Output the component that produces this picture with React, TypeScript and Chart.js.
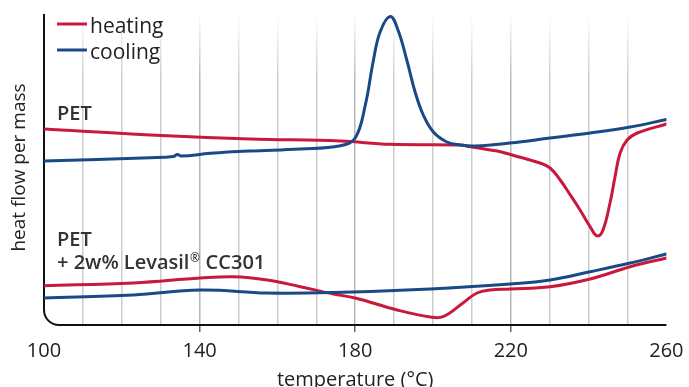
import React, { useEffect, useRef } from 'react';
import { Chart, registerables } from 'chart.js';

Chart.register(...registerables);

// ---- data ----
const xTickLabels = [100, 140, 180, 220, 260];
const xMin = 100;
const xMax = 260;
const gridStep = 10;
const yMin = 0;
const yMax = 315;

const seriesLabels = ['heating', 'cooling'];

const petHeatingT = [100, 127.3, 153, 176.2, 189, 207, 209.6, 214.7, 217.3, 222.4, 227.5, 230.1, 232.7, 235.3, 237.8, 240.4, 242.2, 243.7, 245.5, 246.8, 248.1, 249.9, 252.5, 260];
const petHeatingV = [196, 190, 186, 184, 180.7, 180, 178.3, 175, 173.3, 167.7, 162, 157, 145, 130, 115, 98.3, 89, 95, 122, 148.3, 172, 185, 192, 201];

const petCoolingT = [100, 127.3, 133.2, 134.3, 135.3, 142.8, 153, 165.9, 176.2, 180, 182.6, 184.6, 186.4, 189, 191, 193.4, 195.4, 197.5, 200.1, 203.6, 207, 210.8, 219.8, 230.1, 240.4, 250.7, 260];
const petCoolingV = [164, 167.3, 168.5, 170.5, 168.9, 171.7, 174, 176, 179.3, 187, 220, 263, 293, 308.5, 295, 263, 233, 210, 193, 183, 180, 179, 182, 187, 192, 198, 205.5];

const mixHeatingT = [100, 123, 140.2, 148.7, 157.4, 165.9, 174.4, 180, 190.8, 199.3, 202.6, 207.7, 211.3, 214.7, 219.8, 230.1, 240.4, 250.7, 260];
const mixHeatingV = [39.3, 42, 47, 48.3, 45, 38.3, 31, 27, 15, 8, 8.3, 22, 32, 35, 36, 38.3, 46, 58.3, 67];

const mixCoolingT = [100, 123, 140.2, 157.4, 174.4, 199.3, 219.8, 230.1, 240.4, 250.7, 260];
const mixCoolingV = [27, 30, 35, 32, 32.5, 36, 41, 45, 53.3, 62, 71];

const RED = '#c8193c';
const BLUE = '#1a4a86';
const FONT = '"Open Sans", sans-serif';

const pts = (t: number[], v: number[]) => t.map((x, i) => ({ x, y: v[i] }));

const decor = {
  id: 'decor',
  beforeDatasetsDraw(chart: any) {
    const { ctx, chartArea } = chart;
    const { left, right, bottom, top } = chartArea;
    const r = 15;
    ctx.save();
    ctx.strokeStyle = '#111';
    ctx.lineWidth = 2;
    ctx.beginPath();
    ctx.moveTo(left, top + 4);
    ctx.lineTo(left, bottom - r);
    ctx.arcTo(left, bottom, left + r, bottom, r);
    ctx.lineTo(right, bottom);
    ctx.stroke();
    ctx.restore();
  },
  afterDraw(chart: any) {
    const { ctx, chartArea } = chart;
    const { left, top } = chartArea;
    ctx.save();
    // legend
    const colors = [RED, BLUE];
    seriesLabels.forEach((lab, i) => {
      const y = top + 14 + i * 26;
      ctx.strokeStyle = colors[i];
      ctx.lineWidth = 3;
      ctx.beginPath();
      ctx.moveTo(left + 13, y);
      ctx.lineTo(left + 43, y);
      ctx.stroke();
      ctx.fillStyle = '#222';
      ctx.font = `400 21px ${FONT}`;
      ctx.textBaseline = 'alphabetic';
      ctx.textAlign = 'left';
      ctx.fillText(lab, left + 46, y + 9);
    });
    // sample labels
    ctx.fillStyle = '#333';
    ctx.font = `600 20px ${FONT}`;
    ctx.fillText('PET', left + 13, 120);
    ctx.fillText('PET', left + 13, 246);
    const a = '+ 2w% Levasil';
    ctx.fillText(a, left + 13, 269);
    let x = left + 13 + ctx.measureText(a).width;
    ctx.font = `600 12px ${FONT}`;
    ctx.fillText('®', x + 0.5, 262);
    x += ctx.measureText('®').width + 1;
    ctx.font = `600 20px ${FONT}`;
    ctx.fillText(' CC301', x, 269);
    ctx.restore();
  },
};

export default function App() {
  const ref = useRef<HTMLCanvasElement>(null);
  useEffect(() => {
    const canvas = ref.current;
    if (!canvas) return;
    const gridColor = (c: any) => {
      const v = c.tick?.value;
      if (v === xMin || v === xMax) return 'rgba(0,0,0,0)';
      const area = c.chart.chartArea;
      if (!area) return 'rgba(0,0,0,0.2)';
      const g = c.chart.ctx.createLinearGradient(0, area.top + 4, 0, area.top + 70);
      g.addColorStop(0, 'rgba(0,0,0,0)');
      g.addColorStop(1, xTickLabels.includes(v) ? 'rgba(0,0,0,0.28)' : 'rgba(0,0,0,0.2)');
      return g;
    };
    const chart = new Chart(canvas, {
      type: 'line',
      data: {
        datasets: [
          { label: 'cooling PET', data: pts(petCoolingT, petCoolingV), borderColor: BLUE, order: 0 },
          { label: 'cooling mix', data: pts(mixCoolingT, mixCoolingV), borderColor: BLUE, order: 0 },
          { label: 'heating PET', data: pts(petHeatingT, petHeatingV), borderColor: RED, order: 1 },
          { label: 'heating mix', data: pts(mixHeatingT, mixHeatingV), borderColor: RED, order: 1 },
        ].map((d) => ({
          ...d,
          borderWidth: 3,
          pointRadius: 0,
          fill: false,
          tension: 0.4,
          borderJoinStyle: 'round' as const,
          borderCapStyle: 'round' as const,
        })),
      },
      options: {
        responsive: false,
        animation: false,
        devicePixelRatio: 1,
        layout: { padding: { left: 0, top: 10, right: 22.6, bottom: 0 } },
        plugins: { legend: { display: false }, tooltip: { enabled: false } },
        scales: {
          x: {
            type: 'linear',
            min: xMin,
            max: xMax,
            border: { display: false },
            afterFit: (s: any) => {
              s.height = 62;
              s.paddingLeft = 0;
              s.paddingRight = 0;
            },
            grid: {
              color: gridColor,
              lineWidth: 1.5,
              tickLength: 7,
              tickWidth: 1.5,
              tickColor: (c: any) => (xTickLabels.includes(c.tick?.value) && c.tick.value !== xMin && c.tick.value !== xMax ? '#666' : 'rgba(0,0,0,0)'),
            },
            ticks: {
              stepSize: gridStep,
              autoSkip: false,
              maxRotation: 0,
              padding: 7.5,
              color: '#222',
              font: { family: FONT, size: 20, weight: 400 },
              callback: (v: any) => (xTickLabels.includes(Number(v)) ? String(v) : ''),
            },
            title: {
              display: true,
              text: 'temperature (°C)',
              color: '#222',
              font: { family: FONT, size: 20, weight: 400 },
              padding: { top: 3, bottom: -5 },
            },
          },
          y: {
            min: yMin,
            max: yMax,
            border: { display: false },
            afterFit: (s: any) => {
              s.width = 44;
            },
            grid: { display: false, drawTicks: false },
            ticks: { display: false },
            title: {
              display: true,
              text: 'heat flow per mass',
              color: '#222',
              font: { family: FONT, size: 19, weight: 400 },
              padding: { top: 8, bottom: 12 },
            },
          },
        },
      },
      plugins: [decor],
    });
    return () => chart.destroy();
  }, []);
  return (
    <div style={{ position: 'fixed', left: 0, top: 0, width: 689, height: 387, background: '#fff' }}>
      <canvas ref={ref} width={689} height={387} style={{ width: 689, height: 387, display: 'block' }} />
    </div>
  );
}
